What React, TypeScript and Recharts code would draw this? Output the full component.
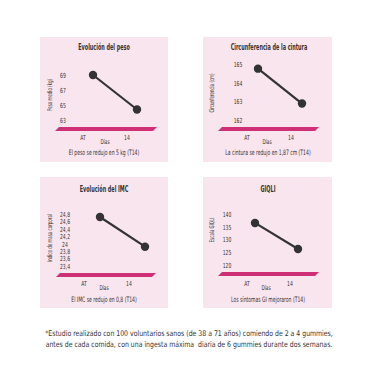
import { LineChart, Line, XAxis, YAxis } from 'recharts';

const days = ['AT', '14'];

const pesoValues = [69.0, 64.4];
const cinturaValues = [164.75, 162.88];
const imcValues = [24.72, 23.92];
const giqliValues = [136.5, 126.3];

const pesoTicks = [63, 65, 67, 69];
const cinturaTicks = [162, 163, 164, 165];
const imcTicks = [23.4, 23.6, 23.8, 24, 24.2, 24.4, 24.6, 24.8];
const giqliTicks = [120, 125, 130, 135, 140];

const titles = ['Evolución del peso', 'Circunferencia de la cintura', 'Evolución del IMC', 'GIQLI'];
const yLabels = ['Peso medio (kg)', 'Circunferencia (cm)', 'Indice de masa corporal', 'Escala GIQLI'];
const captions = [
  'El peso se redujo en 5 kg (T14)',
  'La cintura se redujo en 1,87 cm (T14)',
  'El IMC se redujo en 0,8 (T14)',
  'Los síntomas GI mejoraron (T14)',
];

const FONT = "'Liberation Sans Narrow', 'DejaVu Sans Condensed', 'Roboto', sans-serif";
const PINK = '#f9e5ee';
const MAGENTA = '#cf2f74';
const INK = '#333333';

// layout of each panel, in page pixels
const layouts = [
  { box: [40, 37, 128, 125], yTop: 75, yBot: 120, xA: 93, xB: 137, tickX: 63, xLabY: 137, xDx: -10, dias: [105, 142], bar: [55, 127, 102], title: [104, 48], caption: [104, 153], yLab: [50, 95] },
  { box: [203, 37, 129, 125], yTop: 64, yBot: 120, xA: 258, xB: 302, tickX: 238, xLabY: 137, xDx: -11, dias: [267, 142], bar: [218, 127, 101], title: [269, 48], caption: [268, 153], yLab: [212, 93] },
  { box: [40, 177, 128, 131], yTop: 214, yBot: 266, xA: 100, xB: 145, tickX: 65, xLabY: 283, xDx: -16, dias: [104, 288], bar: [56, 273, 100], title: [104, 190], caption: [104, 300], yLab: [50, 238] },
  { box: [203, 177, 129, 131], yTop: 214, yBot: 265, xA: 255, xB: 298, tickX: 227, xLabY: 283, xDx: -8, dias: [266, 288], bar: [218, 272, 101], title: [268, 190], caption: [268, 300], yLab: [212, 230] },
];

const fmt = (v: number) => String(v).replace('.', ',');

function Txt({ x, y, children, size = 7, bold = false, rotate = false, squeeze = 0.7 }: any) {
  return (
    <div
      style={{
        position: 'absolute',
        left: x,
        top: y,
        transform: `translate(-50%, -50%)${rotate ? ' rotate(-90deg)' : ''} scaleX(${squeeze})`,
        whiteSpace: 'nowrap',
        fontFamily: FONT,
        fontSize: size,
        fontWeight: bold ? 700 : 400,
        color: INK,
        lineHeight: 1,
      }}
    >
      {children}
    </div>
  );
}

function TickText({ x, y, label }: { x: number; y: number; label: string }) {
  return (
    <text
      transform={`translate(${x},${y}) scale(0.72,1)`}
      x={0}
      y={0}
      textAnchor="middle"
      dominantBaseline="central"
      fontFamily={FONT}
      fontSize={7}
      fill={INK}
      stroke="none"
    >
      {label}
    </text>
  );
}

function Panel({ idx, values, ticks }: { idx: number; values: number[]; ticks: number[] }) {
  const L = layouts[idx];
  const [bx, by, bw, bh] = L.box;
  const data = days.map((d, i) => ({ day: d, value: values[i] }));
  const [barX, barY, barW] = L.bar;
  return (
    <>
      <div style={{ position: 'absolute', left: bx, top: by, width: bw, height: bh, background: PINK }} />
      <div
        style={{
          position: 'absolute',
          left: barX,
          top: barY,
          width: barW,
          height: 4,
          background: MAGENTA,
          clipPath: 'polygon(4px 0, 100% 0, calc(100% - 4px) 100%, 0 100%)',
        }}
      />
      <div style={{ position: 'absolute', left: bx, top: by }}>
        <LineChart
          width={bw}
          height={bh}
          data={data}
          margin={{ top: L.yTop - by, bottom: by + bh - L.yBot - 2, left: L.xA - bx - 2, right: bx + bw - L.xB }}
        >
          <XAxis
            dataKey="day"
            height={2}
            axisLine={false}
            tickLine={false}
            interval={0}
            tick={(p: any) => <TickText key={p.index} x={p.x + L.xDx} y={L.xLabY - by} label={p.payload.value} />}
          />
          <YAxis
            width={2}
            domain={[ticks[0], ticks[ticks.length - 1]]}
            ticks={ticks}
            interval={0}
            axisLine={false}
            tickLine={false}
            tick={(p: any) => <TickText key={p.index} x={L.tickX - bx} y={p.y} label={fmt(p.payload.value)} />}
          />
          <Line
            dataKey="value"
            stroke={INK}
            strokeWidth={2.2}
            dot={{ r: 4.2, fill: INK, stroke: INK, strokeWidth: 0 }}
            isAnimationActive={false}
          />
        </LineChart>
      </div>
      <Txt x={L.title[0]} y={L.title[1]} size={8} bold squeeze={0.68}>
        {titles[idx]}
      </Txt>
      <Txt x={L.yLab[0]} y={L.yLab[1]} size={6.5} rotate squeeze={0.68}>
        {yLabels[idx]}
      </Txt>
      <Txt x={L.dias[0]} y={L.dias[1]} size={6.5} squeeze={0.72}>
        Días
      </Txt>
      <Txt x={L.caption[0]} y={L.caption[1]} size={7.4} squeeze={0.68}>
        {captions[idx]}
      </Txt>
    </>
  );
}

export default function App() {
  return (
    <div style={{ position: 'absolute', left: 0, top: 0, width: 378, height: 378, background: '#fff', overflow: 'hidden' }}>
      <Panel idx={0} values={pesoValues} ticks={pesoTicks} />
      <Panel idx={1} values={cinturaValues} ticks={cinturaTicks} />
      <Panel idx={2} values={imcValues} ticks={imcTicks} />
      <Panel idx={3} values={giqliValues} ticks={giqliTicks} />
      <Txt x={189} y={334} size={7.8} squeeze={0.88}>
        *Estudio realizado con 100 voluntarios sanos (de 38 a 71 años) comiendo de 2 a 4 gummies,
      </Txt>
      <Txt x={189} y={345} size={7.8} squeeze={0.88}>
        antes de cada comida, con una ingesta máxima&nbsp; diaria de 6 gummies durante dos semanas.
      </Txt>
    </div>
  );
}
